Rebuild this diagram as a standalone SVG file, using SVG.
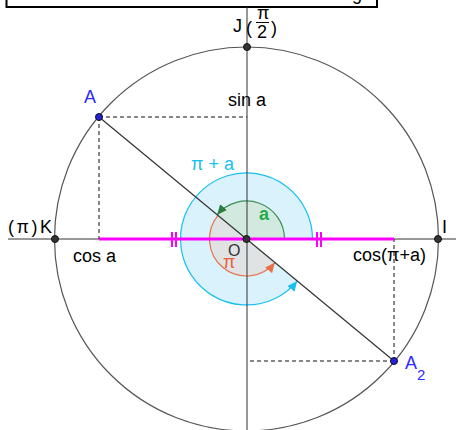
<svg xmlns="http://www.w3.org/2000/svg" width="456" height="430" viewBox="0 0 456 430">
<style>
text{font-family:"Liberation Sans",Arial,sans-serif;font-size:18px}
.k{fill:#000}
.ax{stroke:#333;stroke-width:1;fill:none}
.dash{stroke:#111;stroke-width:1;stroke-dasharray:4 3;fill:none}
.pt{fill:#333;stroke:#111;stroke-width:1}
.ptb{fill:#2222dd;stroke:#111;stroke-width:1}
.mag{stroke:#ff00ff;stroke-width:3;fill:none}
.tick{stroke:#ff00ff;stroke-width:2;fill:none}
.blue{fill:#2a2aff}
.cyan{fill:#18c0f0}
.green{fill:#22aa44;font-weight:bold;font-size:18px}
.orange{fill:#e8603c}
.gray{fill:#333;font-size:16px}
</style>
<defs>
<marker id="mg" markerUnits="userSpaceOnUse" markerWidth="12" markerHeight="10" refX="10" refY="4.5" orient="auto"><path d="M0,0 L10,4.5 L0,9 z" fill="#2e7d3e"/></marker>
<marker id="mo" markerUnits="userSpaceOnUse" markerWidth="12" markerHeight="10" refX="10" refY="4.5" orient="auto"><path d="M0,0 L10,4.5 L0,9 z" fill="#e8704a"/></marker>
<marker id="mb" markerUnits="userSpaceOnUse" markerWidth="12" markerHeight="10" refX="10" refY="4.5" orient="auto"><path d="M0,0 L10,4.5 L0,9 z" fill="#18c0f0"/></marker>
</defs>
<rect width="456" height="430" fill="#fff"/>
<g id="titlebox">
<rect x="6.5" y="-6" width="370.5" height="13" fill="#fff" stroke="#000" stroke-width="2"/>
<text class="k" x="352" y="0" font-size="16">g</text>
</g>
<g id="angles">
<path d="M246.5,239 L312.5,239 A66,66 0 1,0 297.3,281.1 Z" fill="#daf2fb"/>
<path d="M312.5,239 A66,66 0 1,0 297.3,281.1" fill="none" stroke="#18c0f0" stroke-width="1.2" marker-end="url(#mb)"/>
<path d="M246.5,239 L218,215.4 A37,37 0 0,0 275,262.6 Z" fill="#dfe3e3"/>
<path d="M218,215.4 A37,37 0 0,0 275,262.6" fill="none" stroke="#e8704a" stroke-width="1.2" marker-end="url(#mo)"/>
<path d="M246.5,239 L284.5,239 A38,38 0 0,0 217.2,214.8 Z" fill="#d2e9df"/>
<path d="M284.5,239 A38,38 0 0,0 217.2,214.8" fill="none" stroke="#3d8f55" stroke-width="1.2" marker-end="url(#mg)"/>
</g>
<g id="connectors">
<circle cx="246.5" cy="239" r="192" fill="none" stroke="#555" stroke-width="1.2"/>
<line class="ax" x1="8" y1="239" x2="456" y2="239"/>
<line class="ax" x1="247" y1="7" x2="247" y2="430"/>
<line class="dash" x1="99" y1="117" x2="247" y2="117"/>
<line class="dash" x1="99" y1="117" x2="99" y2="239"/>
<line class="dash" x1="394" y1="361" x2="394" y2="239"/>
<line class="dash" x1="394" y1="361" x2="247" y2="361"/>
<line x1="99" y1="117" x2="394" y2="361" stroke="#333" stroke-width="1.2"/>
<line class="mag" x1="99" y1="239" x2="394" y2="239"/>
<path class="tick" d="M172,232 V247 M176,232 V247 M317,232 V247 M321,232 V247"/>
</g>
<g id="O"><circle class="pt" cx="246.5" cy="239" r="3.5"/><text class="gray" x="228" y="256">O</text></g>
<g id="J"><circle class="pt" cx="247" cy="47" r="3.5"/>
<text class="k" x="233" y="32" font-size="17">J</text>
<text class="k" x="246" y="34" font-size="19">(</text>
<text class="k" x="257" y="19" font-size="15">π</text>
<line x1="256" y1="22.5" x2="269" y2="22.5" stroke="#000" stroke-width="1"/>
<text class="k" x="257" y="37.5" font-size="15">2</text>
<text class="k" x="271" y="34" font-size="19">)</text>
</g>
<g id="K"><circle class="pt" cx="55" cy="239" r="3.5"/><text class="k" x="8" y="233" textLength="44" lengthAdjust="spacing">(π)K</text></g>
<g id="I"><circle class="pt" cx="438" cy="239" r="3.5"/><text class="k" x="442" y="233">I</text></g>
<g id="A"><circle class="ptb" cx="99" cy="117" r="3.5"/><text class="blue" x="84" y="103">A</text></g>
<g id="A2"><circle class="ptb" cx="394" cy="361" r="3.5"/><text class="blue" x="405" y="369">A<tspan font-size="15" dy="11">2</tspan></text></g>
<g id="labels">
<text class="k" x="228" y="106">sin a</text>
<text class="k" x="73" y="262">cos a</text>
<text class="k" x="353" y="261">cos(π+a)</text>
<text class="cyan" x="191" y="170">π + a</text>
<text class="green" x="259" y="220">a</text>
<text class="orange" x="223" y="268">π</text>
</g>
</svg>
